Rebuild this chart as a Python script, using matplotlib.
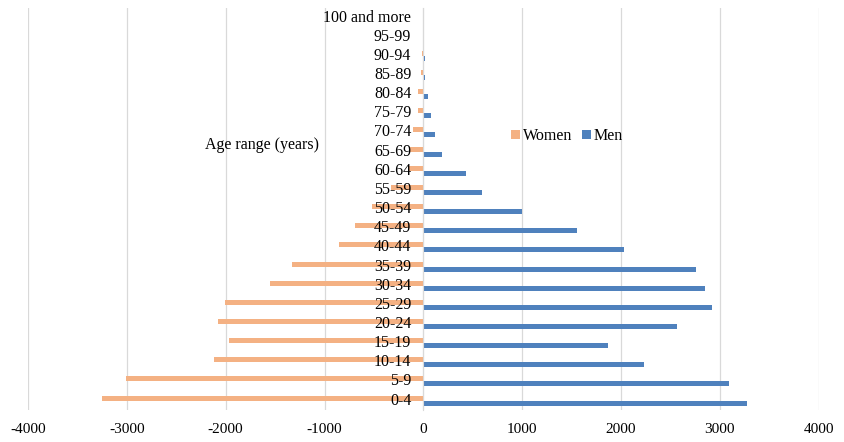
import matplotlib.pyplot as plt
import matplotlib.transforms as mtransforms
import numpy as np

plt.rcParams['font.family'] = ['Liberation Serif', 'DejaVu Serif']
plt.rcParams['axes.unicode_minus'] = False

ages = ["0-4", "5-9", "10-14", "15-19", "20-24", "25-29", "30-34", "35-39",
        "40-44", "45-49", "50-54", "55-59", "60-64", "65-69", "70-74",
        "75-79", "80-84", "85-89", "90-94", "95-99", "100 and more"]
women = [-3253, -3013, -2120, -1968, -2080, -2009, -1547, -1332,
         -857, -691, -519, -327, -142, -142, -101,
         -51, -51, -20, -15, -5, -5]
men = [3279, 3094, 2235, 1867, 2565, 2922, 2845, 2760,
       2027, 1552, 1000, 596, 432, 186, 114,
       81, 44, 20, 20, 2, 1]

fig = plt.figure(figsize=(8.44, 4.42), dpi=100)
ax = fig.add_axes([0.0332, 0.072, 0.9368, 0.910])

y = np.arange(len(ages))
h = 0.26
ax.barh(y + h / 2, women, height=h, color='#F4B183', label='Women', zorder=2)
ax.barh(y - h / 2, men, height=h, color='#4F81BD', label='Men', zorder=2)

ax.set_xlim(-4000, 4000)
ax.set_ylim(-0.5, len(ages) - 0.5)
ax.set_xticks(range(-4000, 4001, 1000))
ax.set_yticks([])
ax.tick_params(axis='x', length=0, pad=9, labelsize=11)
ax.grid(axis='x', color='#D9D9D9', linewidth=0.9, zorder=0)
ax.set_axisbelow(True)

for s in ['top', 'right', 'bottom']:
    ax.spines[s].set_visible(False)
ax.spines['left'].set_position(('data', 0))
ax.spines['left'].set_color('#D9D9D9')

# age labels sit just left of the zero line, on top of the bars
trans = mtransforms.offset_copy(ax.transData, fig=fig, x=-12, y=0, units='dots')
for yi, lab in zip(y, ages):
    ax.text(0, yi, lab, transform=trans, ha='right', va='center',
            fontsize=11.5, zorder=5)

fig.text(262 / 844, 1 - 145 / 442, "Age range (years)", fontsize=11.5,
         ha='center', va='center')

ax.legend(loc='center', bbox_to_anchor=(567 / 844, 1 - 136 / 442),
          bbox_transform=fig.transFigure, ncol=2, frameon=False,
          fontsize=11.5, handlelength=0.55, handleheight=0.55,
          handletextpad=0.2, columnspacing=0.6, borderpad=0)

plt.savefig("out.png", format="png")
